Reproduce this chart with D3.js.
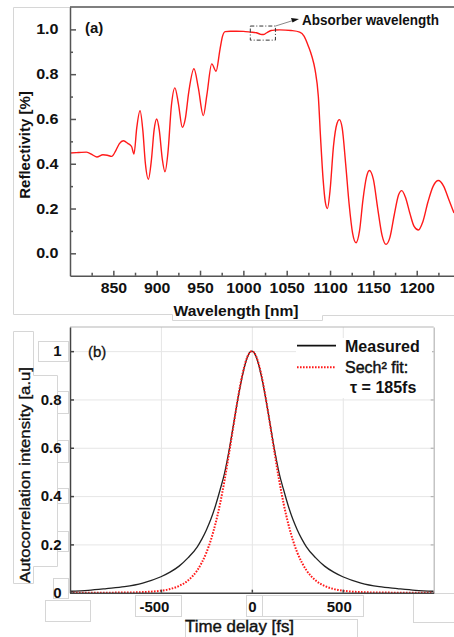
<!DOCTYPE html>
<html><head><meta charset="utf-8">
<script src="https://cdn.jsdelivr.net/npm/d3@7"></script>
<style>
body{margin:0;background:#fff}
svg{display:block;font-family:"Liberation Sans",Arial,sans-serif}
</style>
</head><body><svg id="c" width="454" height="637"></svg>
<script>
// ---------- Panel (a): reflectivity ----------
const wavelength = [800,810,819,826,831,838,843,848,853,857,861.5,867,871,873.8,877,880.8,884,887,890.4,894,897,900,903,906.5,909.6,913,917,921,925,929.6,933,937,943,948,953.8,958,963.5,968.5,973,976,979,985,992,1000,1008,1015,1020,1023,1027,1032,1037,1042,1055,1065,1070,1075,1079,1082.7,1086.5,1089,1092,1094.5,1097,1100,1104,1108,1110.8,1114,1118,1122,1126,1130,1134,1138,1142,1145.3,1150,1155,1160,1164.6,1169,1174,1179,1182.7,1187,1192,1197,1202,1207,1213,1219,1225,1231,1237,1243];
const reflectivity = [0.448,0.450,0.452,0.440,0.430,0.440,0.438,0.433,0.460,0.490,0.503,0.490,0.477,0.443,0.560,0.637,0.550,0.400,0.331,0.420,0.550,0.600,0.550,0.420,0.364,0.450,0.660,0.739,0.670,0.5625,0.600,0.720,0.824,0.740,0.615,0.710,0.846,0.813,0.910,0.970,0.990,0.992,0.992,0.991,0.988,0.985,0.978,0.977,0.985,0.995,0.997,0.998,0.995,0.988,0.970,0.925,0.880,0.820,0.700,0.520,0.330,0.230,0.200,0.280,0.480,0.580,0.597,0.560,0.400,0.220,0.090,0.047,0.100,0.240,0.340,0.370,0.330,0.200,0.080,0.040,0.070,0.170,0.260,0.280,0.250,0.180,0.120,0.104,0.140,0.230,0.300,0.325,0.300,0.240,0.180];
const xTicksA = [850,900,950,1000,1050,1100,1150,1200];
const xMinorA = [825,875,925,975,1025,1075,1125,1175,1225];
const yTicksA = [0,0.2,0.4,0.6,0.8,1.0];
const yMinorA = [0.1,0.3,0.5,0.7,0.9];
const absorberBox = [1008,1037,0.952,1.015];

// ---------- Panel (b): autocorrelation ----------
const delay = [-1000,-900,-800,-700,-600,-500,-450,-400,-350,-300,-275,-250,-225,-200,-175,-150,-125,-100,-75,-50,-25,0,25,50,75,100,125,150,175,200,225,250,275,300,350,400,450,500,600,700,800,900,1000];
const measured = [0.006,0.010,0.017,0.025,0.040,0.066,0.085,0.110,0.145,0.190,0.222,0.260,0.305,0.360,0.425,0.495,0.590,0.700,0.810,0.905,0.975,1.000,0.975,0.905,0.810,0.700,0.590,0.495,0.425,0.360,0.305,0.260,0.222,0.190,0.145,0.110,0.085,0.066,0.040,0.025,0.017,0.010,0.006];
const sechFit = [0,0.0001,0.0002,0.0007,0.0024,0.0083,0.0152,0.028,0.0512,0.093,0.125,0.166,0.219,0.286,0.3675,0.466,0.5785,0.697,0.812,0.910,0.976,1.000,0.976,0.910,0.812,0.697,0.5785,0.466,0.3675,0.286,0.219,0.166,0.125,0.093,0.0512,0.028,0.0152,0.0083,0.0024,0.0007,0.0002,0.0001,0];
const xTicksB = [-500,0,500];
const xTickLabelsB = ["-500","0","500"];
const yTicksB = [0,0.2,0.4,0.6,0.8,1];
const yTickLabelsB = ["0","0.2","0.4","0.6","0.8","1"];
const legendLabels = ["Measured","Sech\u00b2 fit:","\u03c4 = 185fs"];

const svg = d3.select("#c");
const AX = "#555";

// decorative light-gray frames (from composite figure)
const deco = svg.append("g").attr("fill","none").attr("stroke","#d6d6d6").attr("stroke-width",1);
deco.append("path").attr("d","M70,7.5H13.5V314.5H172.5V320.5H322.5V315.5H454");
deco.append("path").attr("d","M33.5,331.5H13.5V583.5H33.5V566.5H57.5V375.5H33.5Z");
[[38.5,341.5,30,20],[57.5,391.5,11,22],[57.5,440.5,11,22],[57.5,488.5,11,15],[57.5,531.5,11,20],[53.5,578.5,15,20],[45.5,600.5,45,21],
 [135.5,595.5,46,21],[246.5,595.5,16,21],[262.5,595.5,101,21],[185.5,619.5,172,18],[413.5,593.5,41,29]].forEach(r=>{
  deco.append("rect").attr("x",r[0]).attr("y",r[1]).attr("width",r[2]).attr("height",r[3]).attr("fill","#fff");
});

// ===== Panel A =====
const xA = d3.scaleLinear().domain([800,1243]).range([70,454]);
const yA = d3.scaleLinear().domain([-0.1,1.1]).range([275.7,7]);
const gA = svg.append("g");

gA.append("line").attr("x1",70).attr("x2",454).attr("y1",7).attr("y2",7).attr("stroke",AX).attr("stroke-width",1.5);

const lineA = d3.line().x((d,i)=>xA(wavelength[i])).y(d=>yA(d)).curve(d3.curveMonotoneX);
gA.append("path").datum(reflectivity).attr("d",lineA).attr("fill","none").attr("stroke","#ff1a1a").attr("stroke-width",1.4);

function styleAxis(g, color, w){
  g.select(".domain").attr("stroke",color).attr("stroke-width",w);
  g.selectAll(".tick line").attr("stroke",color).attr("stroke-width",w);
}
const axXA = gA.append("g").attr("transform","translate(0,275.7)")
  .call(d3.axisBottom(xA).tickValues(xTicksA).tickSizeInner(-5).tickSizeOuter(0).tickPadding(7.5).tickFormat(d3.format("d")));
const axXAm = gA.append("g").attr("transform","translate(0,275.7)")
  .call(d3.axisBottom(xA).tickValues(xMinorA).tickSizeInner(-3).tickSizeOuter(0).tickFormat(""));
axXAm.select(".domain").remove();
const axYA = gA.append("g").attr("transform","translate(70,0)")
  .call(d3.axisLeft(yA).tickValues(yTicksA).tickSizeInner(-6).tickSizeOuter(0).tickPadding(11.5).tickFormat(d3.format(".1f")));
const axYAm = gA.append("g").attr("transform","translate(70,0)")
  .call(d3.axisLeft(yA).tickValues(yMinorA).tickSizeInner(-3).tickSizeOuter(0).tickFormat(""));
axYAm.select(".domain").remove();
[axXA,axXAm,axYA,axYAm].forEach(g=>styleAxis(g,AX,1.5));
[axXA,axYA].forEach(g=>g.selectAll("text").attr("font-size",14).attr("font-weight","bold").attr("fill","#111").attr("font-family","Liberation Sans, Arial"));
function stretch(sel,f){ sel.each(function(){ const L=this.getComputedTextLength(); d3.select(this).attr("textLength",L*f).attr("lengthAdjust","spacingAndGlyphs"); }); }
stretch(axXA.selectAll("text"),1.13);
stretch(axYA.selectAll("text"),1.15);

gA.append("text").attr("x",85).attr("y",33).attr("font-size",15).attr("font-weight","bold").attr("fill","#111").text("(a)");
gA.append("text").attr("transform","translate(30,145) rotate(-90)").attr("text-anchor","middle")
  .attr("font-size",15).attr("font-weight","bold").attr("fill","#111").text("Reflectivity [%]");
gA.append("text").attr("x",236).attr("y",316).attr("text-anchor","middle").attr("font-size",15.5).attr("font-weight","bold")
  .attr("fill","#111").attr("textLength",125).attr("lengthAdjust","spacingAndGlyphs").text("Wavelength [nm]");

// absorber annotation
const bx0 = xA(absorberBox[0]), bx1 = xA(absorberBox[1]), by0 = yA(absorberBox[3]), by1 = yA(absorberBox[2]);
gA.append("rect").attr("x",bx0).attr("y",by0).attr("width",bx1-bx0).attr("height",by1-by0)
  .attr("fill","none").attr("stroke","#333").attr("stroke-width",1).attr("stroke-dasharray","4,2,1,2");
gA.append("line").attr("x1",bx1).attr("y1",by0).attr("x2",293).attr("y2",20.5).attr("stroke","#888").attr("stroke-width",1);
gA.append("path").attr("d","M299,19 L291,18 L292.5,22.5 Z").attr("fill","#111");
gA.append("text").attr("x",302).attr("y",25).attr("font-size",14).attr("font-weight","bold").attr("fill","#111")
  .attr("textLength",137).attr("lengthAdjust","spacingAndGlyphs").text("Absorber wavelength");

// ===== Panel B =====
const xB = d3.scaleLinear().domain([-1000,1000]).range([70,433.7]);
const yB = d3.scaleLinear().domain([0,1.1]).range([592.7,327]);
const gB = svg.append("g");
gB.append("rect").attr("x",70).attr("y",327).attr("width",363.7).attr("height",265.7).attr("fill","#fff");

const gridY = gB.append("g").attr("transform","translate(70,0)")
  .call(d3.axisLeft(yB).tickValues(yTicksB.filter(d=>d>0)).tickSize(-363.7).tickFormat(""));
const gridX = gB.append("g").attr("transform","translate(0,592.7)")
  .call(d3.axisBottom(xB).tickValues(xTicksB).tickSize(-265.7).tickFormat(""));
[gridX,gridY].forEach(g=>{ g.select(".domain").remove(); g.selectAll(".tick line").attr("stroke","#e6e6e6").attr("stroke-width",1); });

const lineM = d3.line().x((d,i)=>xB(delay[i])).y(d=>yB(d)).curve(d3.curveMonotoneX);
gB.append("path").datum(measured).attr("d",lineM).attr("fill","none").attr("stroke","#222").attr("stroke-width",1.3);
gB.append("path").datum(sechFit).attr("d",lineM).attr("fill","none").attr("stroke","#ff1a1a").attr("stroke-width",2).attr("stroke-dasharray","1.6,1.4");

// frame: top and right (light gray)
gB.append("line").attr("x1",70).attr("x2",433.7).attr("y1",327).attr("y2",327).attr("stroke","#b5b5b5").attr("stroke-width",1.2);
const axRB = gB.append("g").attr("transform","translate(433.7,0)")
  .call(d3.axisRight(yB).tickValues(yTicksB).tickSizeInner(-3).tickSizeOuter(0).tickFormat(""));
styleAxis(axRB,"#b5b5b5",1.2);

// legend
const lg = gB.append("g");
lg.append("rect").attr("x",296).attr("y",338).attr("width",136).attr("height",60).attr("fill","#fff");
lg.append("line").attr("x1",297).attr("x2",336).attr("y1",345.7).attr("y2",345.7).attr("stroke","#111").attr("stroke-width",1.8);
lg.append("line").attr("x1",297).attr("x2",336).attr("y1",367.3).attr("y2",367.3).attr("stroke","#ff1a1a").attr("stroke-width",2).attr("stroke-dasharray","1.6,1.4");
lg.append("text").attr("x",345).attr("y",352.3).attr("font-size",16).attr("font-weight","bold").attr("fill","#111").text(legendLabels[0]);
lg.append("text").attr("x",345).attr("y",373.3).attr("font-size",16).attr("fill","#111").attr("stroke","#111").attr("stroke-width",0.45).text(legendLabels[1]);
lg.append("text").attr("x",350).attr("y",392.7).attr("font-size",16).attr("font-weight","bold").attr("fill","#111").text(legendLabels[2]);

// axes left & bottom
const axYB = gB.append("g").attr("transform","translate(70,0)")
  .call(d3.axisLeft(yB).tickValues(yTicksB).tickSizeInner(-4).tickSizeOuter(0).tickPadding(8.5).tickFormat((d,i)=>yTickLabelsB[i]));
const axXB = gB.append("g").attr("transform","translate(0,592.7)")
  .call(d3.axisBottom(xB).tickValues(xTicksB).tickSizeInner(-3).tickSizeOuter(0).tickPadding(8.3).tickFormat((d,i)=>xTickLabelsB[i]));
[axYB,axXB].forEach(g=>{ styleAxis(g,"#444",1.5); g.selectAll("text").attr("font-size",15).attr("font-weight","bold").attr("fill","#111").attr("font-family","Liberation Sans, Arial"); });
axXB.selectAll(".tick text").attr("dx",d=>d<0?-7:(d>0?-4:0));

gB.append("text").attr("x",88).attr("y",357).attr("font-size",15).attr("fill","#111").attr("stroke","#111").attr("stroke-width",0.3).text("(b)");
gB.append("text").attr("transform","translate(30,475) rotate(-90)").attr("text-anchor","middle")
  .attr("font-size",15.5).attr("fill","#111").attr("stroke","#111").attr("stroke-width",0.35)
  .attr("textLength",216).attr("lengthAdjust","spacingAndGlyphs").text("Autocorrelation intensity [a.u]");
gB.append("text").attr("x",239.5).attr("y",631.5).attr("text-anchor","middle").attr("font-size",16).attr("fill","#111")
  .attr("stroke","#111").attr("stroke-width",0.4)
  .attr("textLength",109).attr("lengthAdjust","spacingAndGlyphs").text("Time delay [fs]");
</script>
</body></html>
